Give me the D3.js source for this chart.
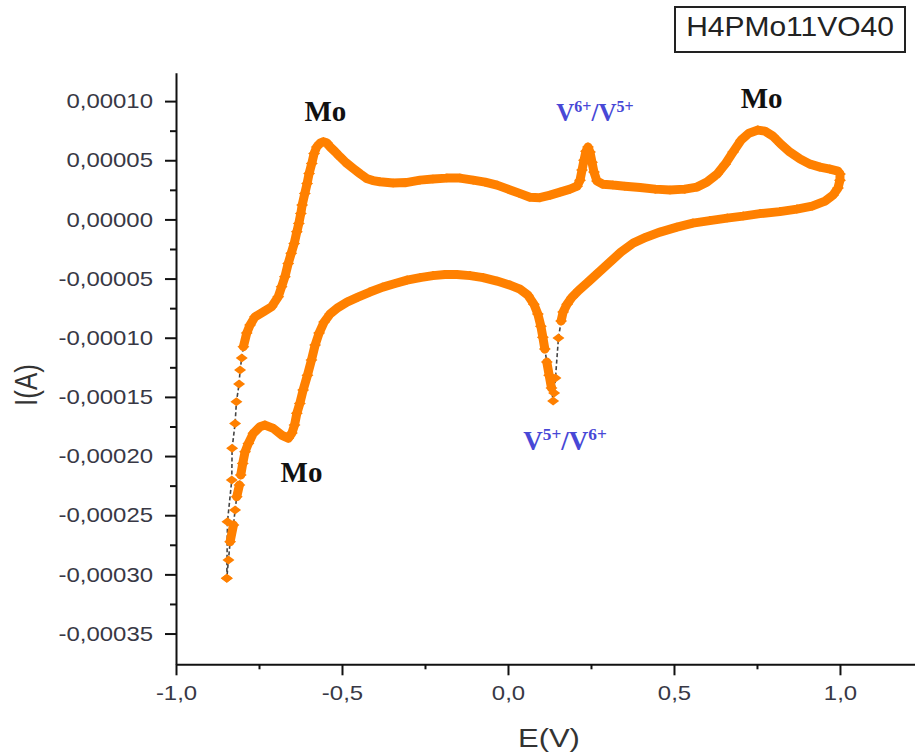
<!DOCTYPE html>
<html><head><meta charset="utf-8">
<script src="https://cdn.jsdelivr.net/npm/d3@7"></script>
<style>body{margin:0;background:#fff;} svg{display:block;}</style>
</head><body>
<svg id="chart" width="915" height="756"></svg>
<script>
// ---- data (E in V, I in A) ----
const forwardE = [-0.847,-0.845,-0.832,-0.831,-0.822,-0.818,-0.810,-0.807,-0.802,-0.797,
  -0.787,-0.777,-0.762,-0.737,-0.712,-0.692,-0.682,-0.672,-0.662,-0.653,
  -0.644,-0.636,-0.630,-0.624,-0.620,-0.612,-0.605,-0.599,-0.591,-0.584,
  -0.576,-0.566,-0.556,-0.545,-0.536,-0.521,-0.506,-0.488,-0.466,-0.446,
  -0.426,-0.407,-0.386,-0.346,-0.307,-0.265,-0.226,-0.184,-0.145,-0.105,
  -0.069,-0.033,0.000,0.033,0.066,0.096,0.127,0.157,0.187,0.208,
  0.217,0.223,0.229,0.235,0.241,0.247,0.253,0.259,0.268,0.286,
  0.316,0.352,0.398,0.443,0.488,0.533,0.569,0.599,0.630,0.654,
  0.678,0.702,0.726,0.753,0.774,0.798,0.822,0.849,0.880,0.910,
  0.940,0.970,0.994,1.000];
const forwardI = [-3.033e-4,-2.555e-4,-2.203e-4,-1.935e-4,-1.724e-4,-1.541e-4,-1.392e-4,-1.273e-4,-1.172e-4,-1.076e-4,
  -9.61e-5,-8.93e-5,-8.23e-5,-7.81e-5,-7.38e-5,-6.54e-5,-5.70e-5,-4.85e-5,-3.72e-5,-2.87e-5,
  -2.03e-5,-1.05e-5,-3.4e-6,5.1e-6,1.21e-5,2.20e-5,3.04e-5,3.89e-5,4.73e-5,5.58e-5,
  6.13e-5,6.45e-5,6.56e-5,6.45e-5,6.13e-5,5.73e-5,5.29e-5,4.80e-5,4.31e-5,3.87e-5,
  3.46e-5,3.28e-5,3.18e-5,3.07e-5,3.11e-5,3.32e-5,3.41e-5,3.49e-5,3.49e-5,3.32e-5,
  3.15e-5,2.90e-5,2.56e-5,2.22e-5,1.88e-5,1.84e-5,2.05e-5,2.31e-5,2.56e-5,2.81e-5,
  3.32e-5,4.17e-5,5.01e-5,5.77e-5,6.11e-5,5.69e-5,4.84e-5,4.00e-5,3.24e-5,2.98e-5,
  2.90e-5,2.81e-5,2.69e-5,2.56e-5,2.48e-5,2.56e-5,2.73e-5,3.15e-5,3.83e-5,4.67e-5,
  5.69e-5,6.70e-5,7.29e-5,7.55e-5,7.46e-5,7.04e-5,6.36e-5,5.69e-5,5.10e-5,4.67e-5,
  4.42e-5,4.25e-5,4.08e-5,3.83e-5];
const reverseE = [1.000,0.994,0.979,0.955,0.916,0.870,0.819,0.759,0.708,0.660,
  0.608,0.557,0.509,0.458,0.416,0.377,0.340,0.307,0.274,0.241,
  0.214,0.193,0.178,0.166,0.160,0.152,0.143,0.139,0.136,0.131,
  0.124,0.117,0.111,0.105,0.099,0.090,0.078,0.060,0.036,0.006,
  -0.033,-0.075,-0.114,-0.154,-0.190,-0.226,-0.265,-0.304,-0.340,-0.377,
  -0.416,-0.452,-0.485,-0.512,-0.536,-0.554,-0.569,-0.581,-0.592,-0.604,
  -0.617,-0.627,-0.636,-0.643,-0.651,-0.662,-0.682,-0.707,-0.732,-0.747,
  -0.767,-0.782,-0.792,-0.799,-0.805,-0.809,-0.817,-0.822,-0.827,-0.837,
  -0.842,-0.847];
const reverseI = [3.32e-5,2.65e-5,2.05e-5,1.55e-5,1.12e-5,8.7e-6,6.6e-6,4.9e-6,2.8e-6,1.1e-6,
  -1.0e-6,-3.1e-6,-6.5e-6,-1.07e-5,-1.50e-5,-2.00e-5,-2.76e-5,-3.61e-5,-4.45e-5,-5.30e-5,
  -5.97e-5,-6.57e-5,-7.16e-5,-7.83e-5,-8.59e-5,-1.003e-4,-1.341e-4,-1.468e-4,-1.535e-4,-1.425e-4,
  -1.316e-4,-1.206e-4,-1.096e-4,-9.95e-5,-9.02e-5,-8.00e-5,-7.16e-5,-6.40e-5,-5.89e-5,-5.55e-5,
  -5.21e-5,-4.92e-5,-4.75e-5,-4.66e-5,-4.66e-5,-4.75e-5,-4.92e-5,-5.13e-5,-5.42e-5,-5.72e-5,
  -6.14e-5,-6.57e-5,-6.99e-5,-7.45e-5,-8.00e-5,-8.68e-5,-9.61e-5,-1.062e-4,-1.189e-4,-1.316e-4,
  -1.442e-4,-1.555e-4,-1.639e-4,-1.738e-4,-1.806e-4,-1.850e-4,-1.823e-4,-1.766e-4,-1.738e-4,-1.752e-4,
  -1.808e-4,-1.893e-4,-1.964e-4,-2.062e-4,-2.160e-4,-2.245e-4,-2.344e-4,-2.456e-4,-2.583e-4,-2.724e-4,
  -2.879e-4,-3.033e-4];

const xTickValues = [-1.0, -0.5, 0.0, 0.5, 1.0];
const xTickLabels = ["-1,0", "-0,5", "0,0", "0,5", "1,0"];
const xMinorTicks = [-0.75, -0.25, 0.25, 0.75];
const yTickValues = [0.0001, 0.00005, 0, -0.00005, -0.0001, -0.00015, -0.0002, -0.00025, -0.0003, -0.00035];
const yTickLabels = ["0,00010", "0,00005", "0,00000", "-0,00005", "-0,00010", "-0,00015", "-0,00020", "-0,00025", "-0,00030", "-0,00035"];
const yMinorTicks = [0.000075, 0.000025, -0.000025, -0.000075, -0.000125, -0.000175, -0.000225, -0.000275, -0.000325];
const xTitle = "E(V)";
const yTitle = "I(A)";
const legendLabel = "H4PMo11VO40";
const moLabels = [
  {text: "Mo", E: -0.550, I: 8.31e-5},
  {text: "Mo", E: 0.764, I: 9.40e-5},
  {text: "Mo", E: -0.622, I: -2.22e-4}
];
const ionLabels = [
  {parts: ["V", "6+", "/V", "5+"], E: 0.262, I: 8.31e-5, size: 25},
  {parts: ["V", "5+", "/V", "6+"], E: 0.172, I: -1.949e-4, size: 27}
];

// ---- drawing ----
const svg = d3.select("#chart");
const x = d3.scaleLinear().domain([-1, 1.226]).range([176, 915]);
const y = d3.scaleLinear().domain([-0.000376, 0.000124]).range([664.3, 72.7]);

const ORANGE = "#ff8000";
const ION = "#4848d6";
const SANS = "'Liberation Sans', Arial, sans-serif";
const SERIF = "'Liberation Serif', 'Times New Roman', serif";

function stretch(sel, f) {
  sel.each(function () {
    const w = this.getComputedTextLength();
    this.setAttribute("textLength", w * f);
    this.setAttribute("lengthAdjust", "spacingAndGlyphs");
  });
}

// axes
const yAxisG = svg.append("g").attr("transform", "translate(176,0)")
  .call(d3.axisLeft(y).tickValues(yTickValues).tickFormat((d, i) => yTickLabels[i])
    .tickSize(11).tickSizeOuter(0).tickPadding(12));
svg.append("g").attr("transform", "translate(176,0)")
  .call(d3.axisLeft(y).tickValues(yMinorTicks).tickFormat("").tickSize(6).tickSizeOuter(0))
  .select(".domain").remove();
const xAxisG = svg.append("g").attr("transform", "translate(0,664.3)")
  .call(d3.axisBottom(x).tickValues(xTickValues).tickFormat((d, i) => xTickLabels[i])
    .tickSize(11).tickSizeOuter(0).tickPadding(10));
svg.append("g").attr("transform", "translate(0,664.3)")
  .call(d3.axisBottom(x).tickValues(xMinorTicks).tickFormat("").tickSize(5).tickSizeOuter(0))
  .select(".domain").remove();

svg.selectAll(".domain").attr("stroke", "#111").attr("stroke-width", 2);
svg.selectAll(".tick line").attr("stroke", "#111").attr("stroke-width", 2);
[yAxisG, xAxisG].forEach(g => {
  g.selectAll("text").attr("font-family", SANS).attr("font-size", 21).attr("fill", "#383845");
  stretch(g.selectAll("text"), 1.14);
});

// axis titles
svg.append("g").attr("transform", "translate(36.5,385) scale(1.2,1)")
  .append("text").attr("transform", "rotate(-90)").attr("text-anchor", "middle")
  .attr("font-family", SANS).attr("font-size", 26).attr("fill", "#333").text(yTitle);
const xt = svg.append("text").attr("x", 549).attr("y", 747).attr("text-anchor", "middle")
  .attr("font-family", SANS).attr("font-size", 26).attr("fill", "#333").text(xTitle);
stretch(xt, 1.19);

// curve
const pts = forwardE.map((e, i) => [e, forwardI[i]])
  .concat(reverseE.map((e, i) => [e, reverseI[i]]));
const px = pts.map(p => [x(p[0]), y(p[1])]);

svg.append("path")
  .attr("d", d3.line().x(d => x(d[0])).y(d => y(d[1]))(pts))
  .attr("fill", "none").attr("stroke", "#444").attr("stroke-width", 1.6)
  .attr("stroke-dasharray", "4,2.5");

let thick = "";
for (let i = 1; i < px.length; i++) {
  const dx = Math.abs(px[i][0] - px[i - 1][0]);
  const dy = Math.abs(px[i][1] - px[i - 1][1]);
  if (dy <= 6.3 * dx || Math.hypot(dx, dy) < 7) {
    thick += `M${px[i - 1][0]},${px[i - 1][1]}L${px[i][0]},${px[i][1]}`;
  }
}
svg.append("path").attr("d", thick).attr("fill", "none").attr("stroke", ORANGE)
  .attr("stroke-width", 9).attr("stroke-linecap", "round").attr("stroke-linejoin", "round");

svg.append("g").selectAll("path").data(pts).join("path")
  .attr("transform", d => `translate(${x(d[0])},${y(d[1])})`)
  .attr("d", "M0,-4.5L6,0L0,4.5L-6,0Z")
  .attr("fill", ORANGE);

// annotations
svg.append("g").selectAll("text").data(moLabels).join("text")
  .attr("x", d => x(d.E)).attr("y", d => y(d.I)).attr("text-anchor", "middle")
  .attr("font-family", SERIF).attr("font-weight", "bold").attr("font-size", 29)
  .attr("fill", "#111").text(d => d.text);

ionLabels.forEach(d => {
  const s = d.size;
  const t = svg.append("text").attr("x", x(d.E)).attr("y", y(d.I)).attr("text-anchor", "middle")
    .attr("font-family", SERIF).attr("font-weight", "bold").attr("font-size", s).attr("fill", ION);
  t.append("tspan").text(d.parts[0]);
  t.append("tspan").attr("font-size", s * 0.64).attr("dy", -s * 0.38).text(d.parts[1]);
  t.append("tspan").attr("dy", s * 0.38).text(d.parts[2]);
  t.append("tspan").attr("font-size", s * 0.64).attr("dy", -s * 0.38).text(d.parts[3]);
});

// legend box
svg.append("rect").attr("x", 675).attr("y", 7).attr("width", 230).attr("height", 45)
  .attr("fill", "#fff").attr("stroke", "#222").attr("stroke-width", 2);
const lt = svg.append("text").attr("x", 790).attr("y", 36).attr("text-anchor", "middle")
  .attr("font-family", SANS).attr("font-size", 28).attr("fill", "#222").text(legendLabel);
stretch(lt, 1.07);
</script>
</body></html>
